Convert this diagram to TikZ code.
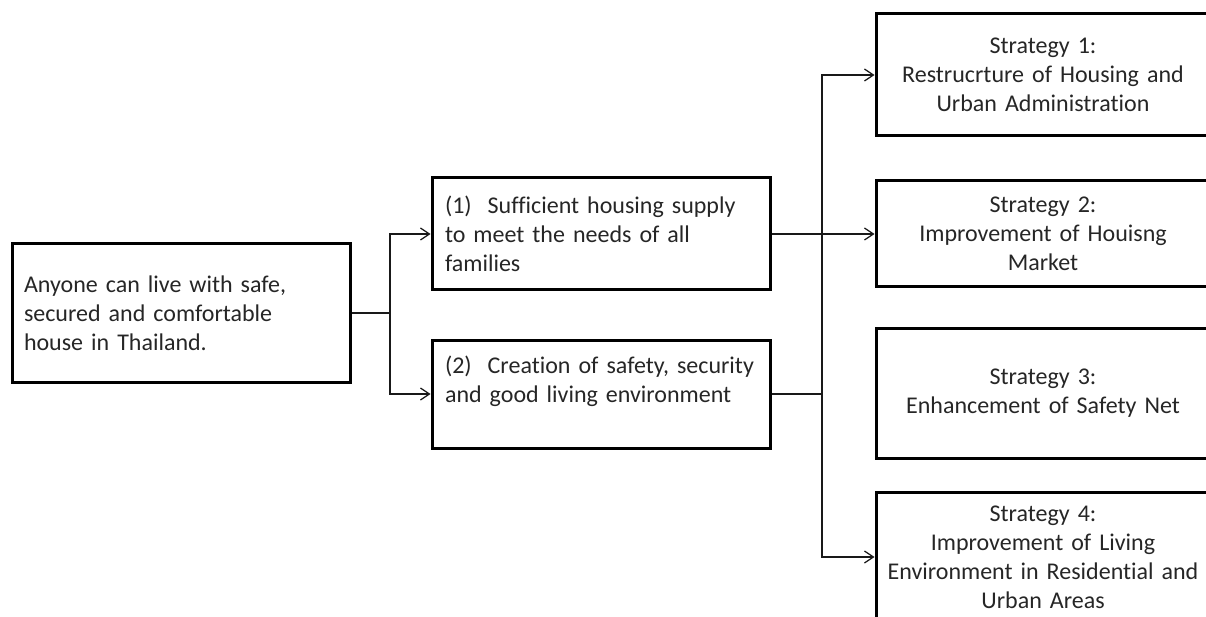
\documentclass[tikz,border=0pt]{standalone}
\usepackage{fontspec}
\setmainfont{Carlito}[Ligatures={NoCommon,NoRare}]
\usetikzlibrary{arrows.meta}
\tikzset{
  box/.style={draw=black, line width=3pt, text=black!85, inner ysep=0pt,
    font=\fontsize{24}{29}\selectfont},
  goalbox/.style={box, minimum width=338pt, minimum height=138pt, text width=314pt, inner xsep=12pt, align=left},
  objbox/.style={box, minimum width=338pt, text width=312pt, inner xsep=13pt, align=left},
  stratbox/.style={box, minimum width=334pt, text width=322pt, inner xsep=6pt, align=center},
  conn/.style={draw=black!90, line width=1.2pt},
  arr/.style={conn, -{Straight Barb[length=9pt,width=12pt,line width=1.2pt]}}
}
\begin{document}
\begin{tikzpicture}[x=1pt,y=-1pt]
\useasboundingbox (0,0) rectangle (1206,617);
\node[goalbox] (goal) at (181,313) {Anyone can live with safe,\\ secured and comfortable\\ house in Thailand.};
\node[objbox, minimum height=112pt] (obj1) at (601,234) {\mbox{(1)\ \ Sufficient housing supply}\\ to meet the needs of all\\ families};
\node[objbox, minimum height=108pt] (obj2) at (601,394) {\mbox{(2)\ \ Creation of safety, security}\\ and good living environment\\ \mbox{}};
\node[stratbox, minimum height=122pt] (s1) at (1043,75) {Strategy 1:\\ Restrucrture of Housing and\\ Urban Administration};
\node[stratbox, minimum height=106pt] (s2) at (1043,234) {Strategy 2:\\ Improvement of Houisng\\ Market};
\node[stratbox, minimum height=130pt] (s3) at (1043,393) {Strategy 3:\\ Enhancement of Safety Net};
\node[stratbox, minimum height=130pt] (s4) at (1043,557) {Strategy 4:\\ Improvement of Living\\ Environment in Residential and\\ Urban Areas};
\coordinate (j1) at (390,313);
\coordinate (j2) at (822,394);
\draw[conn] (goal.east) -- (j1);
\draw[arr] (j1) |- (obj1.west);
\draw[arr] (j1) |- (obj2.west);
\draw[arr] (obj1.east) -- (s2.west);
\draw[conn] (obj2.east) -- (j2);
\draw[arr] (j2) |- (s1.west);
\draw[arr] (j2) |- (s4.west);
\end{tikzpicture}
\end{document}
